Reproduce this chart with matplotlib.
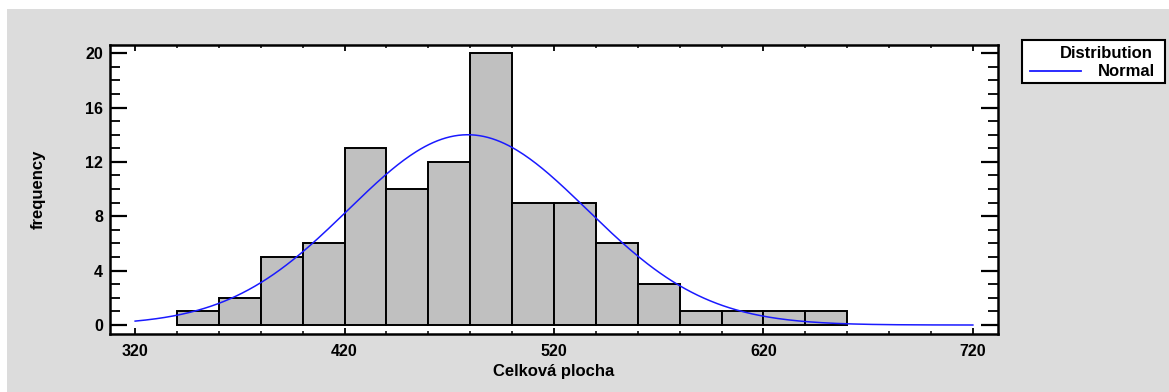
import numpy as np
import matplotlib.pyplot as plt
from matplotlib.patches import Rectangle
from matplotlib.lines import Line2D
from matplotlib.ticker import MultipleLocator

# histogram data (bin left edges, width 20)
bin_edges = [340, 360, 380, 400, 420, 440, 460, 480, 500, 520,
             540, 560, 580, 600, 620, 640, 660]
counts = [1, 2, 5, 6, 13, 10, 12, 20, 9, 9, 6, 3, 1, 1, 1, 1]

# fitted normal distribution
fit_mean = 478.8
fit_sigma = 57.0
n_obs = sum(counts)
bin_width = 20

x_label = "Celková plocha"
y_label = "frequency"

plt.rcParams['font.family'] = ['Liberation Sans', 'DejaVu Sans']
plt.rcParams['font.weight'] = 'bold'

W, H = 1169, 392
fig = plt.figure(figsize=(W / 100, H / 100), dpi=100, facecolor='white')
fig.patches.append(Rectangle((7 / W, 0), 1, (H - 9) / H, transform=fig.transFigure,
                             facecolor='#dcdcdc', edgecolor='none', zorder=-10))

ax = fig.add_axes([110 / W, (H - 334) / H, (998 - 110) / W, (334 - 45) / H])
ax.set_facecolor('white')

ax.bar(bin_edges[:-1], counts, width=bin_width, align='edge',
       color='#c0c0c0', edgecolor='black', linewidth=1.4, zorder=2)

xs = np.linspace(320, 720, 400)
pdf = np.exp(-0.5 * ((xs - fit_mean) / fit_sigma) ** 2) / (fit_sigma * np.sqrt(2 * np.pi))
ax.plot(xs, n_obs * bin_width * pdf, color='#1a1aff', linewidth=1.1, zorder=3)

ax.set_xlim(308, 732)
ax.set_ylim(-0.66, 20.6)
ax.xaxis.set_major_locator(MultipleLocator(100))
ax.xaxis.set_minor_locator(MultipleLocator(20))
ax.yaxis.set_major_locator(MultipleLocator(4))
ax.yaxis.set_minor_locator(MultipleLocator(1))
ax.set_xticks([320, 420, 520, 620, 720])

for s in ax.spines.values():
    s.set_linewidth(1.8)

ax.tick_params(axis='x', which='major', direction='in', length=4.5, width=1.3,
               top=True, bottom=True, labelsize=11.5, pad=7)
ax.tick_params(axis='x', which='minor', direction='in', length=2.5, width=1.1,
               top=True, bottom=True)
ax.tick_params(axis='y', which='major', direction='in', length=12, width=1.6,
               left=True, right=True, labelsize=11.5, pad=5)
ax.tick_params(axis='y', which='minor', direction='in', length=7, width=1.3,
               left=True, right=True)

ax.set_xlabel(x_label, fontsize=12, fontweight='bold', labelpad=4)
ax.set_ylabel(y_label, fontsize=12, fontweight='bold', labelpad=28)

# legend box
lx0, lx1, ly0, ly1 = 1022, 1165, 40, 83
fig.patches.append(Rectangle((lx0 / W, 1 - ly1 / H), (lx1 - lx0) / W, (ly1 - ly0) / H,
                             transform=fig.transFigure, facecolor='white',
                             edgecolor='black', linewidth=1.5, zorder=5))
fig.text(1153 / W, 1 - 53 / H, "Distribution", ha='right', va='center',
         fontsize=12, fontweight='bold', zorder=6)
fig.text(1155 / W, 1 - 71 / H, "Normal", ha='right', va='center',
         fontsize=12, fontweight='bold', zorder=6)
fig.lines.append(Line2D([1030 / W, 1081 / W], [1 - 71 / H, 1 - 71 / H],
                        transform=fig.transFigure, color='#1a1aff', linewidth=1.3, zorder=6))

fig.savefig('out.png', dpi=100, facecolor=fig.get_facecolor())
